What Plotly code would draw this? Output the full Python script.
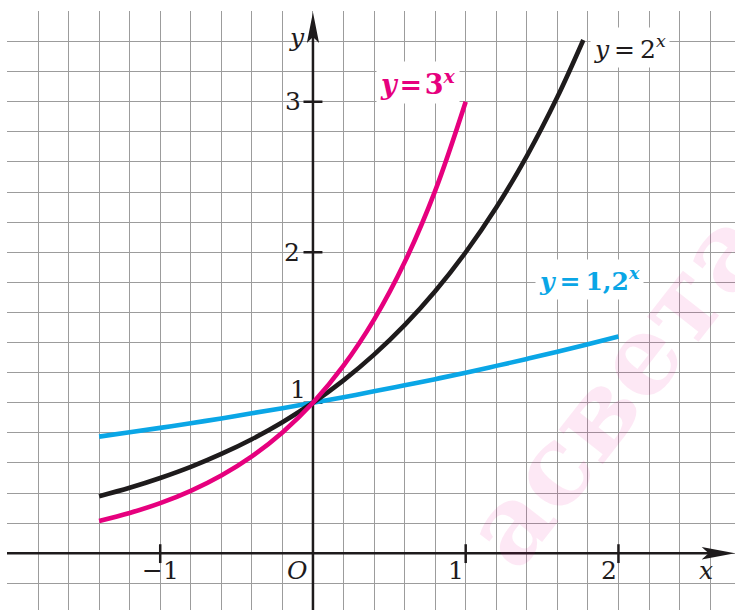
import plotly.graph_objects as go

# Curve samples
X_3 = [-1.4, -1.2, -1.0, -0.8, -0.6, -0.4, -0.2, 0.0, 0.2, 0.4, 0.6, 0.8, 1.0]
Y_3 = [0.215, 0.268, 0.333, 0.415, 0.517, 0.644, 0.803, 1.0, 1.246, 1.552, 1.933, 2.408, 3.0]

X_2 = [-1.4, -1.2, -1.0, -0.8, -0.6, -0.4, -0.2, 0.0, 0.2, 0.4, 0.6, 0.8, 1.0, 1.2, 1.4, 1.6, 1.77]
Y_2 = [0.379, 0.435, 0.5, 0.574, 0.66, 0.758, 0.871, 1.0, 1.149, 1.32, 1.516, 1.741, 2.0, 2.297, 2.639, 3.031, 3.41]

X_12 = [-1.4, -1.2, -1.0, -0.8, -0.6, -0.4, -0.2, 0.0, 0.2, 0.4, 0.6, 0.8, 1.0, 1.2, 1.4, 1.6, 1.8, 2.0]
Y_12 = [0.775, 0.804, 0.833, 0.864, 0.896, 0.93, 0.964, 1.0, 1.037, 1.076, 1.116, 1.157, 1.2,
        1.245, 1.291, 1.339, 1.389, 1.44]

X_TICKS = [-1, 1, 2]
X_TICK_TEXT = ["\u22121", "1", "2"]
Y_TICKS = [1, 2, 3]

MAGENTA = "#E6007E"
BLACK = "#1E1B1C"
BLUE = "#0AA6E6"
GRID = "#9c9c9c"
SERIF = "DejaVu Serif"

X_RANGE = [-2.003, 2.763]
Y_RANGE = [-0.377, 3.603]

fig = go.Figure()

for xs, ys, col in [(X_12, Y_12, BLUE), (X_2, Y_2, BLACK), (X_3, Y_3, MAGENTA)]:
    fig.add_trace(go.Scatter(x=xs, y=ys, mode="lines", line=dict(color=col, width=4.6, shape="spline"),
                             hoverinfo="skip", showlegend=False))

# axes with arrows
ax = dict(type="line", line=dict(color=BLACK, width=2.5), layer="between")
fig.add_shape(x0=-2.003, x1=2.6, y0=0, y1=0, **ax)
fig.add_shape(x0=0, x1=0, y0=-0.377, y1=3.45, **ax)
fig.add_shape(type="path", path="M 2.763 0 L 2.545 0.042 L 2.59 0 L 2.545 -0.042 Z",
              fillcolor=BLACK, line=dict(width=0))
fig.add_shape(type="path", path="M 0 3.595 L -0.04 3.39 L 0 3.43 L 0.04 3.39 Z",
              fillcolor=BLACK, line=dict(width=0))
for t in X_TICKS:
    fig.add_shape(x0=t, x1=t, y0=-0.065, y1=0.06, **ax)
for t in Y_TICKS:
    fig.add_shape(x0=-0.062, x1=0.062, y0=t, y1=t, **ax)

# watermark
fig.add_annotation(x=1.977, y=1.105, text="<b>асвета</b>", showarrow=False, textangle=-52,
                   font=dict(family=SERIF, size=108, color="rgba(236,0,140,0.09)"))

def label(x, y, text, size=25, color=BLACK):
    fig.add_annotation(x=x, y=y, text=text, showarrow=False,
                       font=dict(family=SERIF, size=size, color=color))

for t, s in zip(X_TICKS, X_TICK_TEXT):
    label(t + (0.005 if t < 0 else -0.065), -0.115, s)
label(-0.098, -0.115, "<i>O</i>")
label(2.573, -0.115, "<i>x</i>")
label(-0.105, 3.43, "<i>y</i>")
label(-0.133, 3.0, "3")
label(-0.137, 2.0, "2")
label(-0.098, 1.085, "1")

def curve_label(x, y, text, color, size):
    fig.add_annotation(x=x, y=y, text=text, showarrow=False, bgcolor="white", borderpad=3,
                       font=dict(family=SERIF, size=size, color=color))

curve_label(0.69, 3.13, "<b><i>y</i>\u200a=\u200a3<sup><i>x</i></sup></b>", MAGENTA, 27)
curve_label(2.075, 3.36, "<i>y</i>\u2009=\u20092<sup><i>x</i></sup>", BLACK, 25)
curve_label(1.813, 1.82, "<b><i>y</i>\u2009=\u20091,2<sup><i>x</i></sup></b>", BLUE, 25)

grid = dict(showgrid=True, gridcolor=GRID, gridwidth=1.4, dtick=0.2, tick0=0, zeroline=False,
            showticklabels=False, ticks="", showline=False, fixedrange=True)
fig.update_xaxes(range=X_RANGE, **grid)
fig.update_yaxes(range=Y_RANGE, **grid)

fig.update_layout(width=735, height=610, margin=dict(l=7, r=0, t=11, b=0),
                  plot_bgcolor="white", paper_bgcolor="white")

# page body has a default 8px margin; drop it so the figure sits at the corner
fig.write_html("out.html", config={"displayModeBar": False},
               post_script="document.body.style.margin = '0';")
